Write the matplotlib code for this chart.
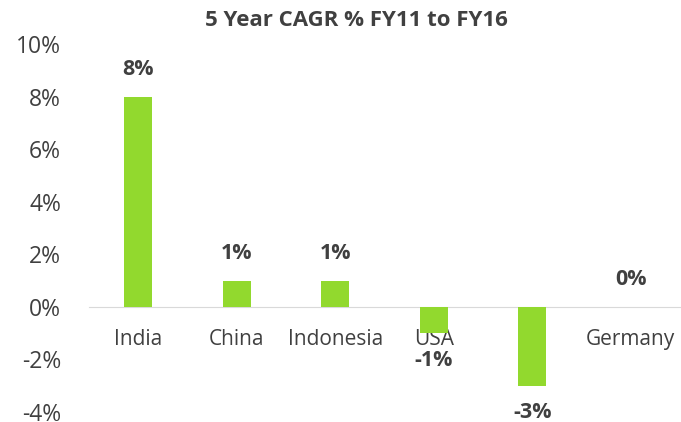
import matplotlib
matplotlib.use("Agg")
import matplotlib.pyplot as plt
from matplotlib.ticker import FuncFormatter

categories = ["India", "China", "Indonesia", "USA", "UK", "Germany"]
values = [8, 1, 1, -1, -3, 0]
labels = ["8%", "1%", "1%", "-1%", "-3%", "0%"]
yticks = [-4, -2, 0, 2, 4, 6, 8, 10]

plt.rcParams['font.family'] = ['Open Sans', 'DejaVu Sans']
txt = '#404040'
green = '#92D92E'

fig = plt.figure(figsize=(6.81, 4.22), dpi=100)
ax = fig.add_axes([89/681, 1-412/422, (680-89)/681, (412-44)/422])

x = list(range(len(categories)))
ax.bar(x, values, width=0.28, color=green, zorder=2)
ax.set_xlim(-0.5, len(categories)-0.5)
ax.set_ylim(-4, 10)
ax.set_yticks(yticks)
ax.yaxis.set_major_formatter(FuncFormatter(lambda v, p: f"{int(v)}%"))
ax.tick_params(axis='y', length=0, pad=20, labelsize=16.5, labelcolor=txt)

for s in ['top', 'right', 'left']:
    ax.spines[s].set_visible(False)
ax.spines['bottom'].set_position(('data', 0))
ax.spines['bottom'].set_color('#d9d9d9')
ax.spines['bottom'].set_zorder(1)
ax.set_xticks(x)
ax.set_xticklabels(categories)
ax.tick_params(axis='x', length=0, pad=16, labelsize=15, labelcolor=txt)
for t in ax.get_xticklabels():
    t.set_zorder(5)

for xi, v, lab in zip(x, values, labels):
    off = 19.5 if v >= 0 else -19.5
    ax.annotate(lab, (xi, v), xytext=(0, off), textcoords='offset points',
                ha='center', va='center', fontsize=15.5, fontweight='bold', color=txt)

fig.text(356/681, 1-20/422, "5 Year CAGR % FY11 to FY16", ha='center', va='center',
         fontsize=16, fontweight='bold', color=txt)

fig.savefig("out.png", dpi=100)
